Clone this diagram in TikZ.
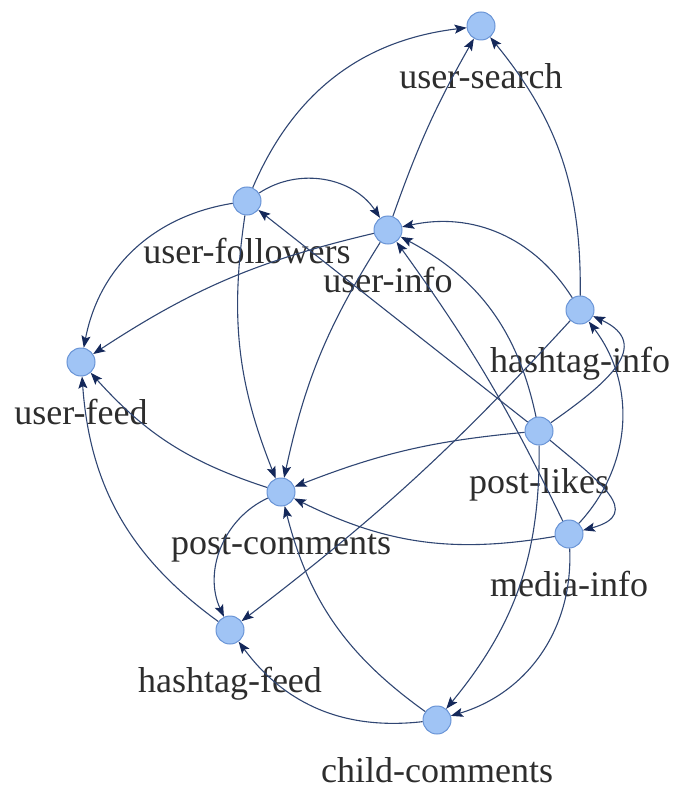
\documentclass[tikz,border=0pt]{standalone}
\usepackage{fontspec}
\setmainfont{Liberation Serif}
\usetikzlibrary{arrows.meta}

\definecolor{nodefill}{RGB}{160,196,245}
\definecolor{nodeline}{RGB}{105,148,214}
\definecolor{edgeblue}{RGB}{48,70,115}
\definecolor{tipblue}{RGB}{20,40,90}
\definecolor{labelgray}{RGB}{45,45,45}

\begin{document}
\begin{tikzpicture}[x=0.5pt, y=0.5pt, label distance=11.5pt,
  svc/.style={circle, draw=nodeline, fill=nodefill, line width=0.5pt, minimum size=14pt, inner sep=0pt},
  every label/.style={font=\fontsize{18}{20}\selectfont, text=labelgray, inner sep=0pt, text height=12.5pt, text depth=4pt},
  dep/.style={-{Stealth[length=6pt,width=4.5pt,inset=1.2pt,color=tipblue]}, draw=edgeblue, line width=0.55pt}]
\useasboundingbox (0,0) rectangle (679,-791);

\node[svc, label=below:user-search] (us) at (481,-26) {};
\node[svc, label=below:user-followers] (uf) at (247,-201) {};
\node[svc, label=below:user-info] (ui) at (388,-230) {};
\node[svc, label=below:hashtag-info] (hi) at (580,-310) {};
\node[svc, label=below:user-feed] (fd) at (81,-362) {};
\node[svc, label=below:post-likes] (pl) at (539,-431) {};
\node[svc, label=below:post-comments] (pc) at (281,-492) {};
\node[svc, label=below:media-info] (mi) at (569,-534) {};
\node[svc, label=below:hashtag-feed] (hf) at (230,-630) {};
\node[svc, label=below:child-comments] (cc) at (437,-720) {};

% dependencies
\draw[dep] (uf) to[bend left=30] (us);
\draw[dep] (ui) to[bend left=5] (us);
\draw[dep] (hi) to[bend right=20] (us);
\draw[dep] (uf) to[bend left=45] (ui);
\draw[dep] (uf) to[bend right=35] (fd);
\draw[dep] (ui) to[bend right=10] (fd);
\draw[dep] (uf) to[bend right=15] (pc);
\draw[dep] (ui) to[bend right=10] (pc);
\draw[dep] (pl) -- (uf);
\draw[dep] (hi) to[bend right=35] (ui);
\draw[dep] (pl) to[bend right=25] (ui);
\draw[dep] (mi) to[bend right=5] (ui);
\draw[dep] (pl) to[out=35, in=-25, looseness=1.5] (hi);
\draw[dep] (mi) to[bend right=40] (hi);
\draw[dep] (hi) to[bend left=5] (hf);
\draw[dep] (pl) to[bend right=8] (pc);
\draw[dep] (mi) to[bend left=18] (pc);
\draw[dep] (pl) to[out=-40, in=15, looseness=1.7] (mi);
\draw[dep] (pl) to[bend left=20] (cc);
\draw[dep] (mi) to[bend left=38] (cc);
\draw[dep] (cc) to[bend left=20] (pc);
\draw[dep] (cc) to[bend left=30] (hf);
\draw[dep] (pc) to[bend right=45] (hf);
\draw[dep] (hf) to[bend left=25] (fd);
\draw[dep] (pc) to[bend left=15] (fd);
\end{tikzpicture}
\end{document}
